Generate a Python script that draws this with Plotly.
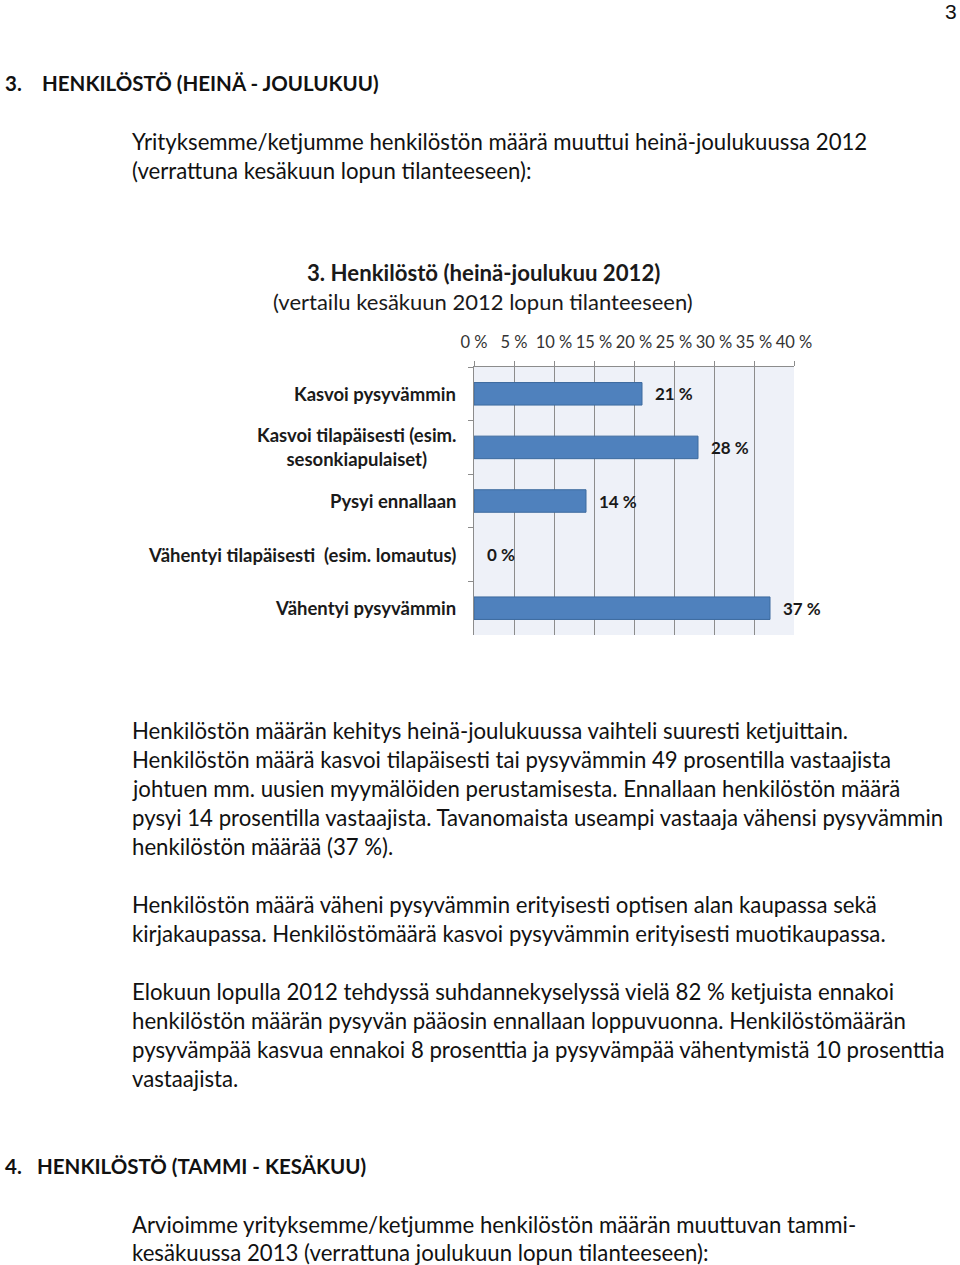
import plotly.graph_objects as go

W, H = 960, 1265

categories = [
    "Kasvoi pysyvämmin",
    "Kasvoi tilapäisesti (esim.<br>sesonkiapulaiset)",
    "Pysyi ennallaan",
    "Vähentyi tilapäisesti  (esim. lomautus)",
    "Vähentyi pysyvämmin",
]
values = [21, 28, 14, 0, 37]
tick_vals = [0, 5, 10, 15, 20, 25, 30, 35, 40]
tick_text = ["0 %", "5 %", "10 %", "15 %", "20 %", "25 %", "30 %", "35 %", "40 %"]

FONT = "Lato"
BODY = 22.2
HEAD = 20.5

def px(x):
    return x / W

def py(y):
    return 1 - y / H

fig = go.Figure()
fig.add_trace(go.Bar(
    x=values, y=categories, orientation="h",
    marker=dict(color="#4F81BD",
                line=dict(color="#3C6A9E", width=[1 if v > 0 else 0 for v in values])),
    width=0.42, hoverinfo="skip",
))

ann = []
for c, v in zip(categories, values):
    ann.append(dict(x=v, y=c, xref="x", yref="y", text=f"<b>{v} %</b>",
                    showarrow=False, xanchor="left", xshift=11,
                    font=dict(family=FONT, size=17, color="#1a1a1a")))
for c in categories:
    ann.append(dict(x=px(458), y=c, xref="paper", yref="y", text=f"<b>{c}</b>",
                    showarrow=False, xanchor="right", align="center",
                    font=dict(family=FONT, size=18.5, color="#1a1a1a")))

ann.append(dict(x=px(483), y=py(273), xref="paper", yref="paper",
                text="<b>3. Henkilöstö (heinä-joulukuu 2012)</b>", showarrow=False,
                xanchor="center", yanchor="middle",
                font=dict(family=FONT, size=22.2, color="#1a1a1a")))
ann.append(dict(x=px(483), y=py(302), xref="paper", yref="paper",
                text="(vertailu kesäkuun 2012 lopun tilanteeseen)", showarrow=False,
                xanchor="center", yanchor="middle",
                font=dict(family=FONT, size=22, color="#1a1a1a")))

def line(x, y, text, size=BODY, bold=False, family=FONT):
    t = f"<b>{text}</b>" if bold else text
    ann.append(dict(x=px(x), y=py(y), xref="paper", yref="paper", text=t,
                    showarrow=False, xanchor="left", yanchor="middle",
                    font=dict(family=family, size=size, color="#111111")))

ann.append(dict(x=px(959), y=py(12), xref="paper", yref="paper", text="3",
                showarrow=False, xanchor="right", yanchor="middle",
                font=dict(family="Liberation Sans Narrow, Liberation Sans", size=21, color="#111111")))

line(3, 83, "3.", size=HEAD, bold=True)
line(40, 83, "HENKILÖSTÖ (HEINÄ - JOULUKUU)", size=HEAD, bold=True)
line(130, 141, "Yrityksemme/ketjumme henkilöstön määrä muuttui heinä-joulukuussa 2012")
line(130, 170, "(verrattuna kesäkuun lopun tilanteeseen):")

body1 = [
    "Henkilöstön määrän kehitys heinä-joulukuussa vaihteli suuresti ketjuittain.",
    "Henkilöstön määrä kasvoi tilapäisesti tai pysyvämmin 49 prosentilla vastaajista",
    "johtuen mm. uusien myymälöiden perustamisesta. Ennallaan henkilöstön määrä",
    "pysyi 14 prosentilla vastaajista. Tavanomaista useampi vastaaja vähensi pysyvämmin",
    "henkilöstön määrää (37 %).",
]
for i, t in enumerate(body1):
    line(130, 730 + 29 * i, t)
body2 = [
    "Henkilöstön määrä väheni pysyvämmin erityisesti optisen alan kaupassa sekä",
    "kirjakaupassa. Henkilöstömäärä kasvoi pysyvämmin erityisesti muotikaupassa.",
]
for i, t in enumerate(body2):
    line(130, 904 + 29 * i, t)
body3 = [
    "Elokuun lopulla 2012 tehdyssä suhdannekyselyssä vielä 82 % ketjuista ennakoi",
    "henkilöstön määrän pysyvän pääosin ennallaan loppuvuonna. Henkilöstömäärän",
    "pysyvämpää kasvua ennakoi 8 prosenttia ja pysyvämpää vähentymistä 10 prosenttia",
    "vastaajista.",
]
for i, t in enumerate(body3):
    line(130, 991 + 29 * i, t)

line(3, 1166, "4.", size=HEAD, bold=True)
line(35, 1166, "HENKILÖSTÖ (TAMMI - KESÄKUU)", size=HEAD, bold=True)
line(130, 1224, "Arvioimme yrityksemme/ketjumme henkilöstön määrän muuttuvan tammi-")
line(130, 1252, "kesäkuussa 2013 (verrattuna joulukuun lopun tilanteeseen):")

fig.update_layout(
    width=W, height=H,
    margin=dict(l=0, r=0, t=0, b=0, autoexpand=False),
    paper_bgcolor="white",
    plot_bgcolor="#EEF1F8",
    showlegend=False,
    annotations=ann,
    xaxis=dict(
        domain=[px(474), px(794)], range=[0, 40], side="top",
        tickvals=tick_vals, ticktext=tick_text,
        tickfont=dict(family=FONT, size=16.5, color="#333333"),
        showgrid=True, gridcolor="#8C8C8C", gridwidth=1,
        ticks="outside", ticklen=5, tickcolor="#8C8C8C",
        showline=True, linecolor="#8C8C8C", linewidth=1,
        zeroline=False, fixedrange=True, ticklabelstandoff=6,
        automargin=False,
    ),
    yaxis=dict(
        domain=[py(635), py(367)], autorange="reversed",
        showticklabels=False, ticks="outside", ticklen=5, tickcolor="#8C8C8C",
        tickson="boundaries",
        showline=True, linecolor="#8C8C8C", linewidth=1,
        showgrid=False, zeroline=False, fixedrange=True,
        automargin=False,
    ),
)

# the page is a plain document: no body margin around the figure
fig.write_html("out.html", config={"displayModeBar": False},
               post_script="document.body.style.margin='0';")
